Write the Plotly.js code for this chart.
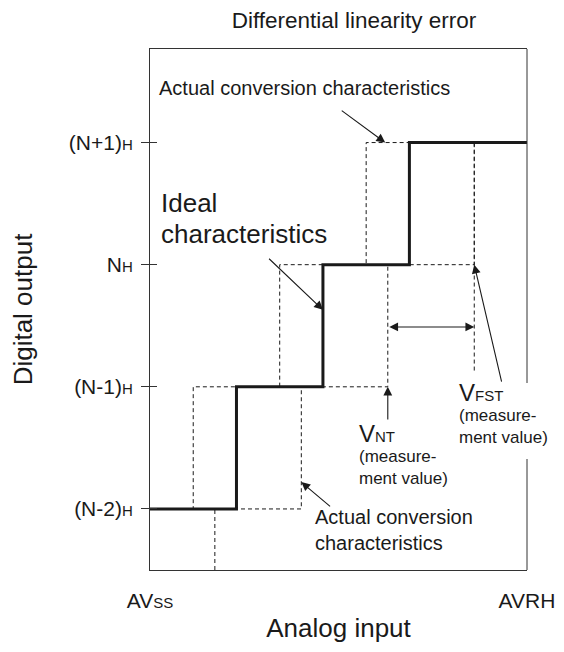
<!DOCTYPE html>
<html><head><meta charset="utf-8">
<script src="https://cdn.plot.ly/plotly-3.0.1.min.js"></script>
<style>html,body{margin:0;padding:0;background:#fff}</style>
</head><body><div id="chart" style="width:564px;height:652px"></div>
<script>
// ---- data (analog input in LSB units, digital output as code level) ----
const codeLevels = [0, 1, 2, 3];
const codeNames = ['(N-2)', '(N-1)', 'N', '(N+1)'];
const xEnd = 4.36;                       // AVRH
const idealSteps = [1.0, 2.0, 3.0];      // ideal transition points
const actualLeftSteps = [0.5, 1.5, 2.5]; // actual conversion (shifted left)
const actualRightSteps = [1.75, 2.75, 3.75]; // actual conversion (shifted right)
const markerX = [0.75];                  // dashed marker below (N-2)H
const vfstMarkBottom = [1.11];           // lower end of dashed line at VFST
const spanLevel = [1.49];                // level of the double arrow
const xTickNames = ['AV<span style="font-size:15px">SS</span>', 'AVRH'];

// ---- helpers ----
const FONT = 'Liberation Sans, Arial, Helvetica, sans-serif';
const INK = '#1a1a1a';
const L = 150, R = 527, T = 49, B = 570;
const PX = px => (px - L) / (R - L);
const PY = py => (B - py) / (B - T);

function stairs(steps) {
  const x = [0], y = [codeLevels[0]];
  steps.forEach((s, i) => { x.push(s, s); y.push(codeLevels[i], codeLevels[i + 1]); });
  x.push(xEnd); y.push(codeLevels[codeLevels.length - 1]);
  return {x, y};
}
const ideal = stairs(idealSteps);
const actL = stairs(actualLeftSteps);
const actR = stairs(actualRightSteps);
const dashSty = {color: INK, width: 1, dash: '4px,3px'};

const traces = [
  {x: actL.x, y: actL.y, mode: 'lines', line: dashSty},
  {x: actR.x, y: actR.y, mode: 'lines', line: dashSty},
  {x: [markerX[0], markerX[0]], y: [-0.5, codeLevels[0]], mode: 'lines', line: dashSty, yaxis: 'y2'},
  {x: [actualRightSteps[2], actualRightSteps[2]], y: [codeLevels[3], vfstMarkBottom[0]], mode: 'lines', line: dashSty},
  {x: ideal.x, y: ideal.y, mode: 'lines', line: {color: INK, width: 3}}
];

const tickText = codeNames.map(n => n + '<span style="font-size:15px">H</span>');

function txt(text, px, py, size, extra) {
  return Object.assign({text, xref: 'paper', yref: 'paper', x: PX(px), y: PY(py),
    xanchor: 'left', yanchor: 'middle', showarrow: false, align: 'left', borderpad: 0,
    font: {family: FONT, size, color: INK}}, extra || {});
}
function arrow(x, y, ax, ay, extra) {
  return Object.assign({text: '', x, y, ax, ay, xref: 'x', yref: 'y', axref: 'x', ayref: 'y',
    showarrow: true, arrowhead: 2, arrowsize: 1.6, arrowwidth: 1.1, arrowcolor: INK, standoff: 0}, extra || {});
}

const annotations = [
  txt('Actual conversion characteristics', 158, 88, 20),
  arrow(2.72, codeLevels[3], 2.2, 3.27),
  txt('Ideal', 160, 203, 26),
  txt('characteristics', 160, 234, 26),
  arrow(idealSteps[1], 1.63, 1.36, 2.06),
  txt('Actual conversion', 314, 517, 20),
  txt('characteristics', 314, 543, 20),
  arrow(actualRightSteps[0], 0.22, 2.1, 0.01),
  arrow(actualRightSteps[1], codeLevels[1], actualRightSteps[1], 0.72),
  txt('V<span style="font-size:15px">NT</span>', 358, 433, 24),
  txt('(measure-<br>ment value)', 358, 467, 17),
  arrow(actualRightSteps[2], codeLevels[2], 4.07, 1.03),
  txt('V<span style="font-size:15px">FST</span>', 458, 392, 24),
  txt('(measure-<br>ment value)', 458, 427, 17),
  arrow(actualRightSteps[2], spanLevel[0], actualRightSteps[1], spanLevel[0], {arrowside: 'end+start'})
];

const boxLine = {color: '#333', width: 1};
const shapes = [
  {type: 'line', xref: 'paper', yref: 'paper', x0: 1, x1: 1, y0: 0, y1: PY(459), line: boxLine},
  {type: 'line', xref: 'paper', yref: 'paper', x0: 1, x1: 1, y0: PY(383), y1: 1, line: boxLine}
];

const layout = {
  width: 564, height: 652,
  margin: {l: L, r: 564 - R, t: T, b: 652 - B},
  paper_bgcolor: '#fff', plot_bgcolor: '#fff',
  showlegend: false, hovermode: false,
  font: {family: FONT, color: INK},
  title: {text: 'Differential linearity error', font: {family: FONT, size: 22.5, color: INK},
    xref: 'container', yref: 'container', x: 354 / 564, y: 1 - 20 / 652, xanchor: 'center', yanchor: 'middle'},
  xaxis: {range: [0, xEnd], showgrid: false, zeroline: false, showline: true, mirror: true,
    linecolor: '#333', linewidth: 1, ticks: '', tickvals: [0, xEnd], ticktext: xTickNames,
    tickfont: {family: FONT, size: 21, color: INK}, ticklabelstandoff: 12,
    title: {text: 'Analog input', font: {family: FONT, size: 26, color: INK}, standoff: 7}},
  yaxis: {range: [-0.5, 3.766], showgrid: false, zeroline: false, showline: true,
    linecolor: '#333', linewidth: 1, ticks: 'outside', ticklen: 8, tickcolor: '#333', tickwidth: 1,
    tickvals: codeLevels, ticktext: tickText, tickfont: {family: FONT, size: 21, color: INK},
    ticklabelstandoff: 4,
    title: {text: 'Digital output', font: {family: FONT, size: 26, color: INK}, standoff: 28}},
  yaxis2: {overlaying: 'y', anchor: 'x', side: 'left', range: [-0.5, 3.766], showgrid: false,
    zeroline: false, showline: false, ticks: 'inside', ticklen: 7, tickcolor: '#333', tickwidth: 1,
    tickvals: codeLevels, showticklabels: false},
  annotations, shapes
};

Plotly.newPlot('chart', traces, layout, {staticPlot: true, displayModeBar: false});
</script></body></html>
